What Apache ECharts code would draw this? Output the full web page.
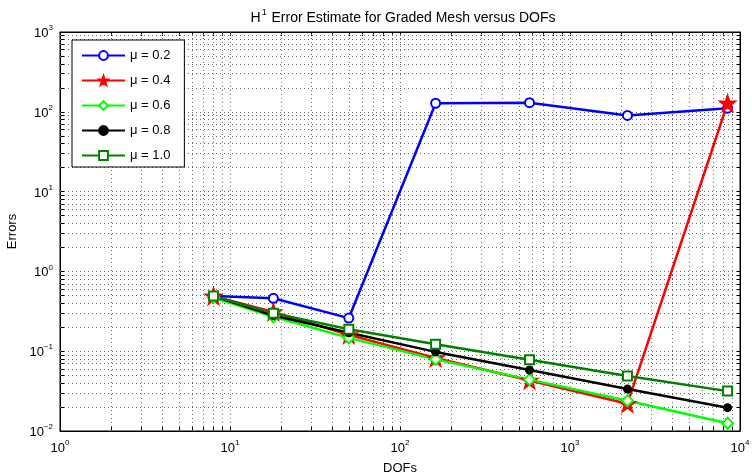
<!DOCTYPE html>
<html>
<head>
<meta charset="utf-8">
<script src="https://cdn.jsdelivr.net/npm/echarts@6/dist/echarts.min.js"></script>
<style>
  html, body { margin: 0; padding: 0; background: #fff; }
  #chart { width: 752px; height: 474px; }
</style>
</head>
<body>
<div id="chart"></div>
<script>
// degrees of freedom on each graded mesh
const dofs = [8, 18, 50, 162, 578, 2178, 8450]

const mu02 = [0.49, 0.46, 0.26, 128, 130, 90, 111]
const mu04 = [0.49, 0.31, 0.16, 0.082, 0.043, 0.022, 128]
const mu06 = [0.47, 0.27, 0.147, 0.079, 0.044, 0.024, 0.0125]
const mu08 = [0.49, 0.28, 0.17, 0.098, 0.058, 0.0335, 0.0196]
const mu10 = [0.49, 0.30, 0.188, 0.122, 0.078, 0.049, 0.0316]

const xDecades = [1, 10, 100, 1000, 10000]
const yDecades = [0.01, 0.1, 1, 10, 100, 1000]

const FONT = '"Liberation Sans", Arial, sans-serif'
const STAR = 'path://M0,-10L2.35,-3.24L9.51,-3.09L3.8,1.24L5.88,8.09L0,4L-5.88,8.09L-3.8,1.24L-9.51,-3.09L-2.35,-3.24Z'

// all 1..9 multiples inside the range, for the dotted grid and the small ticks
function multiples(decades) {
  const out = []
  for (let i = 0; i < decades.length - 1; i++) {
    for (let k = 1; k <= 9; k++) out.push(+(decades[i] * k).toPrecision(3))
  }
  out.push(decades[decades.length - 1])
  return out
}
const xTicks = multiples(xDecades)
const yTicks = multiples(yDecades)

function pow10(v) {
  const e = Math.round(Math.log10(v))
  return '{b|10}{s|' + (e < 0 ? '\u2212' + (-e) : e) + '}'
}

const labelRich = {
  b: { fontSize: 13, fontFamily: FONT, color: '#000', verticalAlign: 'bottom' },
  s: { fontSize: 8, fontFamily: FONT, color: '#000', verticalAlign: 'top', padding: [0, 0, 8, 0] }
}

function pairs(ys) { return dofs.map((x, i) => [x, ys[i]]) }

function lineSeries(name, ys, color, symbol, size) {
  return {
    name: name,
    type: 'line',
    data: pairs(ys),
    symbol: symbol,
    symbolSize: size,
    showSymbol: true,
    lineStyle: { color: color, width: 2.5 },
    itemStyle: { color: color, borderColor: color, borderWidth: 2 },
    z: 3,
    animation: false
  }
}

const chart = echarts.init(document.getElementById('chart'))

const gridLines = []
xTicks.filter(v => v > xDecades[0] && v < xDecades[xDecades.length - 1]).forEach(v => gridLines.push({ xAxis: v }))
yTicks.filter(v => v > yDecades[0] && v < yDecades[yDecades.length - 1]).forEach(v => gridLines.push({ yAxis: v }))

const baseX = {
  type: 'log',
  logBase: 10,
  min: 1,
  max: 10000,
  interval: 1,
  axisLine: { onZero: false, lineStyle: { color: '#000', width: 1 } },
  splitLine: { show: false },
  axisTick: { inside: true, length: 4, customValues: xTicks, lineStyle: { color: '#000' } }
}
const baseY = {
  type: 'log',
  logBase: 10,
  min: 0.01,
  max: 1000,
  interval: 1,
  axisLine: { onZero: false, lineStyle: { color: '#000', width: 1 } },
  splitLine: { show: false },
  axisTick: { inside: true, length: 4, customValues: yTicks, lineStyle: { color: '#000' } }
}

chart.setOption({
  backgroundColor: '#fff',
  animation: false,
  title: {
    text: '{a|H}{s|1}{a| Error Estimate for Graded Mesh versus DOFs}',
    left: 398,
    textAlign: 'center',
    top: 3,
    textStyle: {
      fontWeight: 'normal',
      rich: {
        a: { fontSize: 14, fontFamily: FONT, color: '#000', fontWeight: 'normal', verticalAlign: 'bottom' },
        s: { fontSize: 9, fontFamily: FONT, color: '#000', fontWeight: 'normal', verticalAlign: 'top', padding: [0, 1, 8, 1] }
      }
    }
  },
  grid: {
    left: 60, right: 12, top: 32, bottom: 43,
    outerBoundsMode: 'none',
    show: true, borderColor: '#000', borderWidth: 1, backgroundColor: '#fff'
  },
  legend: {
    orient: 'vertical',
    left: 72,
    top: 40,
    padding: [9, 14, 5, 9],
    itemGap: 12,
    itemWidth: 43,
    itemHeight: 11,
    backgroundColor: '#fff',
    borderColor: '#000',
    borderWidth: 1,
    textStyle: { fontSize: 13, fontFamily: FONT, color: '#000' },
    data: ['\u03bc = 0.2', '\u03bc = 0.4', '\u03bc = 0.6', '\u03bc = 0.8', '\u03bc = 1.0']
  },
  xAxis: [
    Object.assign({}, baseX, {
      position: 'bottom',
      name: 'DOFs',
      nameLocation: 'middle',
      nameGap: 31,
      nameTextStyle: { fontSize: 13, fontFamily: FONT, color: '#000' },
      axisLabel: { formatter: pow10, rich: labelRich, margin: 8 }
    }),
    Object.assign({}, baseX, { position: 'top', axisLabel: { show: false } })
  ],
  yAxis: [
    Object.assign({}, baseY, {
      position: 'left',
      name: 'Errors',
      nameLocation: 'middle',
      nameGap: 40,
      nameTextStyle: { fontSize: 13, fontFamily: FONT, color: '#000' },
      axisLabel: { formatter: pow10, rich: labelRich, margin: 7 }
    }),
    Object.assign({}, baseY, { position: 'right', axisLabel: { show: false } })
  ],
  series: [
    {
      name: 'grid',
      type: 'line',
      data: [],
      silent: true,
      markLine: {
        z: 1,
        silent: true,
        symbol: ['none', 'none'],
        label: { show: false },
        lineStyle: { color: '#666', width: 1, type: [1, 3] },
        emphasis: { disabled: true },
        animation: false,
        data: gridLines
      }
    },
    lineSeries('\u03bc = 0.2', mu02, '#0000ff', 'emptyCircle', 9),
    lineSeries('\u03bc = 0.4', mu04, '#ff0000', STAR, 15),
    lineSeries('\u03bc = 0.6', mu06, '#00ff00', 'emptyDiamond', 11),
    lineSeries('\u03bc = 0.8', mu08, '#000000', 'circle', 7),
    lineSeries('\u03bc = 1.0', mu10, '#008000', 'emptyRect', 9)
  ]
})
</script>
</body>
</html>
